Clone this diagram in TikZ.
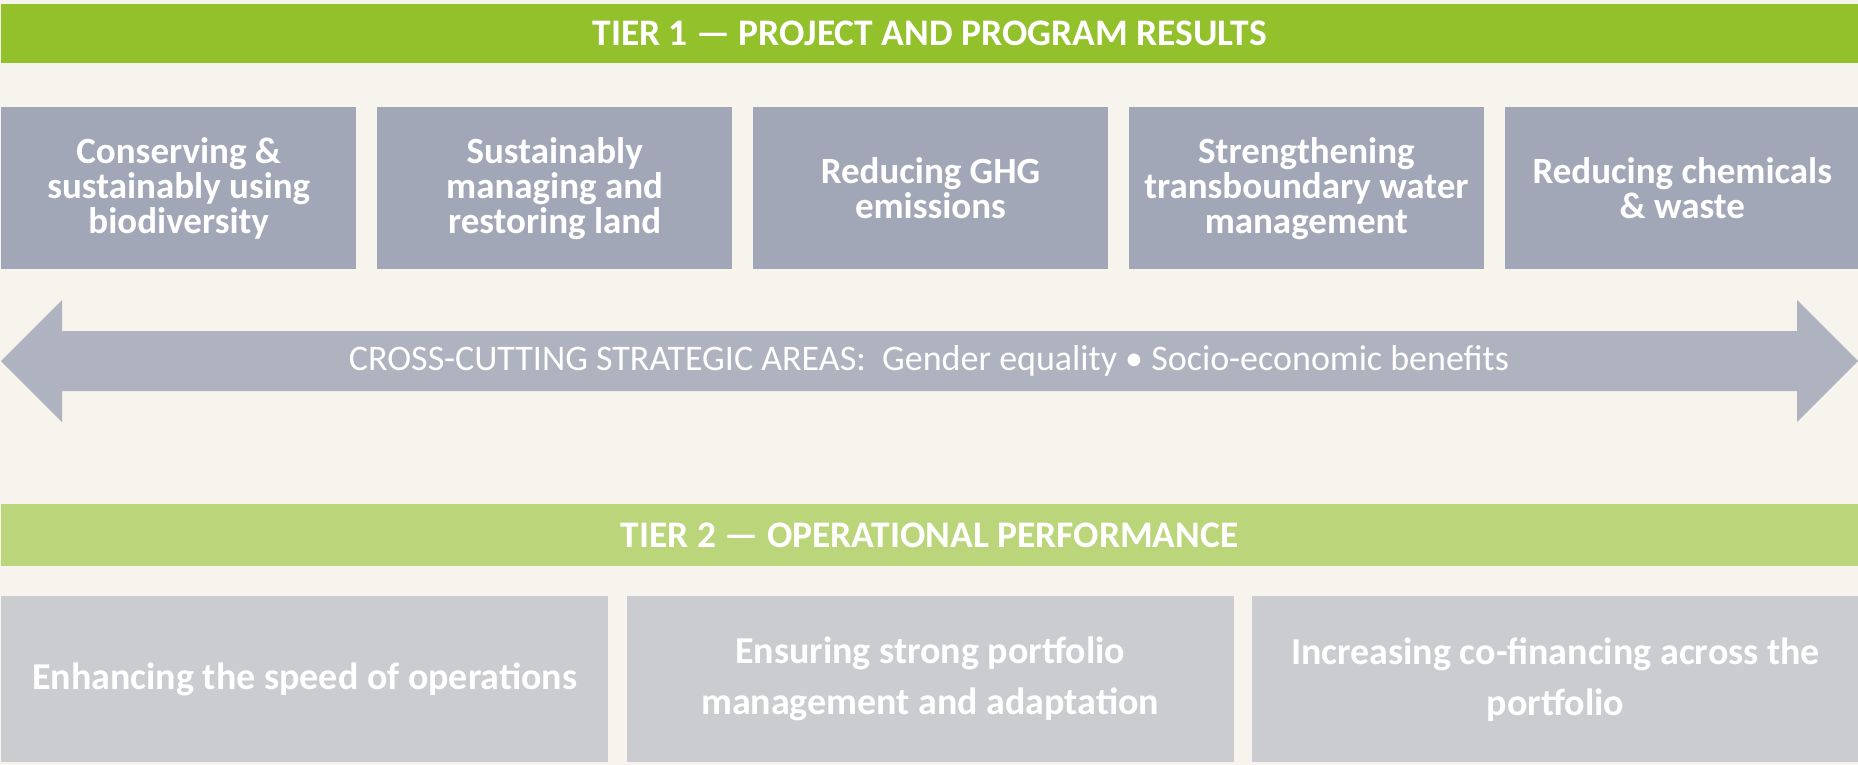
\documentclass[tikz,border=0pt]{standalone}
\usepackage{fontspec}
\setmainfont{Carlito}
\usetikzlibrary{positioning}
\definecolor{bgcream}{HTML}{F7F3ED}
\definecolor{tieronegreen}{HTML}{92C12C}
\definecolor{tiertwogreen}{HTML}{BBD67A}
\definecolor{resultgrey}{HTML}{A1A7B6}
\definecolor{arrowgrey}{HTML}{AFB3BF}
\definecolor{opsgrey}{HTML}{CBCCD0}
\tikzstyle{tierbar} = [rectangle, anchor=north west, inner sep=0pt, minimum width=1857pt, text=white, font=\fontsize{37.5}{40}\selectfont\bfseries]
\tikzstyle{resultbox} = [rectangle, fill=resultgrey, anchor=north west, inner sep=0pt, minimum width=355pt, minimum height=162pt, align=center, text=white, font=\fontsize{37}{35}\selectfont\bfseries]
\tikzstyle{opsbox} = [rectangle, fill=opsgrey, anchor=north west, inner sep=0pt, minimum width=607pt, minimum height=166pt, align=center, text=white, font=\fontsize{38}{51}\selectfont\bfseries]

\begin{document}
\begin{tikzpicture}[x=1pt, y=-1pt]
  \useasboundingbox (0,0) rectangle (1858,765);
  \fill[bgcream] (0,0) rectangle (1858,765);
  % Tier 1
  \node (tier1) [tierbar, fill=tieronegreen, minimum height=59pt] at (1,4) {TIER 1 --- PROJECT AND PROGRAM RESULTS};
  \node (biodiv) [resultbox] at (1,107) {Conserving \&\\sustainably using\\biodiversity};
  \node (land) [resultbox, right=20.5pt of biodiv] {Sustainably\\managing and\\restoring land};
  \node (ghg) [resultbox, right=20.5pt of land] {Reducing GHG\\emissions};
  \node (water) [resultbox, right=20.5pt of ghg] {Strengthening\\transboundary water\\management};
  \node (chem) [resultbox, right=20.5pt of water] {Reducing chemicals\\\& waste};
  % Querschnitt
  \fill[arrowgrey] (1,361) -- (62,300) -- (62,331) -- (1797,331) -- (1797,300) -- (1858,361)
    -- (1797,422) -- (1797,391) -- (62,391) -- (62,422) -- cycle;
  \node (crosscut) [text=white, font=\fontsize{36}{40}\selectfont] at (929,361) {CROSS-CUTTING STRATEGIC AREAS:\ \ Gender equality \textbullet\ Socio-economic benefits};
  % Tier 2
  \node (tier2) [tierbar, fill=tiertwogreen, minimum height=62pt] at (1,504) {TIER 2 --- OPERATIONAL PERFORMANCE};
  \node (speed) [opsbox] at (1,596) {Enhancing the speed of operations};
  \node (portfolio) [opsbox, right=18pt of speed] {Ensuring strong portfolio\\management and adaptation};
  \node (cofin) [opsbox, right=18pt of portfolio] {Increasing co-financing across the\\portfolio};
\end{tikzpicture}
\end{document}
